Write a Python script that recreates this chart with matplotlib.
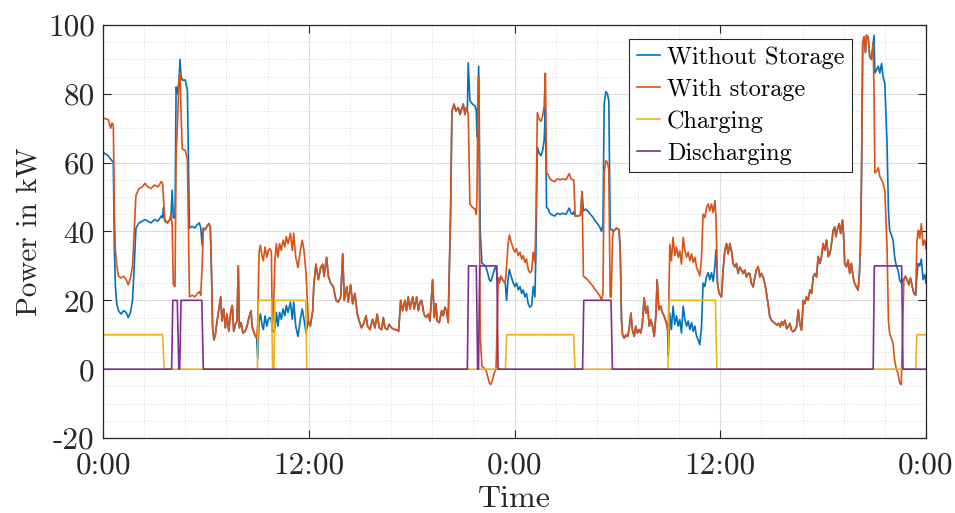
import numpy as np
import matplotlib
matplotlib.use("Agg")
import matplotlib.pyplot as plt
from matplotlib.ticker import FixedLocator, MultipleLocator

# hours since start (two days)
time_h = [
    0.0, 0.3, 0.45, 0.52, 0.6, 0.66, 0.72, 0.8, 0.9, 1.05,
    1.2, 1.35, 1.47, 1.6, 1.72, 1.8, 1.92, 2.1, 2.3, 2.45,
    2.6, 2.8, 3.0, 3.2, 3.4, 3.47, 3.52, 3.6, 3.75, 3.9,
    3.97, 4.03, 4.1, 4.2, 4.26, 4.33, 4.43, 4.49, 4.55, 4.62,
    4.8, 4.92, 5.0, 5.04, 5.2, 5.35, 5.5, 5.62, 5.7, 5.78,
    5.85, 5.95, 6.06, 6.18, 6.26, 6.34, 6.39, 6.47, 6.55, 6.65,
    6.76, 6.86, 6.94, 7.04, 7.13, 7.23, 7.33, 7.46, 7.54, 7.62,
    7.72, 7.81, 7.89, 7.95, 8.05, 8.16, 8.28, 8.4, 8.51, 8.63,
    8.71, 8.81, 8.9, 8.96, 9.02, 9.1, 9.18, 9.27, 9.35, 9.45,
    9.55, 9.64, 9.74, 9.82, 9.87, 9.95, 10.03, 10.11, 10.2, 10.3,
    10.4, 10.5, 10.6, 10.69, 10.79, 10.93, 11.04, 11.12, 11.24, 11.37,
    11.51, 11.62, 11.72, 11.84, 11.97, 12.09, 12.23, 12.3, 12.42, 12.56,
    12.69, 12.81, 12.89, 13.04, 13.14, 13.28, 13.43, 13.59, 13.72, 13.86,
    13.98, 14.07, 14.21, 14.3, 14.44, 14.56, 14.69, 14.83, 14.94, 15.08,
    15.22, 15.34, 15.43, 15.57, 15.72, 15.86, 15.99, 16.11, 16.25, 16.35,
    16.44, 16.58, 16.69, 16.83, 16.99, 17.12, 17.24, 17.36, 17.47, 17.61,
    17.7, 17.8, 17.9, 18.06, 18.15, 18.29, 18.39, 18.49, 18.58, 18.72,
    18.84, 18.97, 19.07, 19.22, 19.32, 19.42, 19.49, 19.61, 19.75, 19.84,
    19.94, 20.04, 20.13, 20.27, 20.35, 20.47, 20.58, 20.72, 20.82, 20.91,
    21.01, 21.11, 21.2, 21.25, 21.3, 21.4, 21.55, 21.7, 21.77, 21.81,
    21.87, 21.91, 21.95, 22.0, 22.1, 22.23, 22.33, 22.43, 22.53, 22.62,
    22.72, 22.82, 22.92, 23.0, 23.05, 23.11, 23.2, 23.3, 23.46, 23.54,
    23.62, 23.7, 23.8, 23.93, 24.02, 24.12, 24.22, 24.32, 24.42, 24.51,
    24.61, 24.7, 24.8, 24.9, 25.0, 25.09, 25.19, 25.25, 25.33, 25.44,
    25.54, 25.64, 25.73, 25.8, 25.87, 25.97, 26.06, 26.2, 26.35, 26.5,
    26.65, 26.84, 27.0, 27.19, 27.3, 27.4, 27.46, 27.54, 27.7, 27.85,
    27.94, 28.02, 28.15, 28.3, 28.42, 28.55, 28.68, 28.82, 28.95, 29.08,
    29.16, 29.23, 29.33, 29.42, 29.5, 29.58, 29.64, 29.72, 29.76, 29.95,
    30.1, 30.17, 30.24, 30.3, 30.4, 30.5, 30.6, 30.68, 30.79, 30.87,
    30.98, 31.07, 31.17, 31.27, 31.37, 31.46, 31.56, 31.66, 31.76, 31.86,
    31.95, 32.05, 32.15, 32.25, 32.32, 32.42, 32.52, 32.62, 32.73, 32.86,
    32.93, 32.97, 33.06, 33.15, 33.25, 33.35, 33.45, 33.55, 33.64, 33.74,
    33.84, 33.94, 34.04, 34.13, 34.23, 34.33, 34.42, 34.52, 34.62, 34.71,
    34.81, 34.91, 35.0, 35.1, 35.2, 35.3, 35.39, 35.49, 35.59, 35.69,
    35.75, 35.84, 35.93, 36.07, 36.17, 36.27, 36.37, 36.46, 36.56, 36.65,
    36.75, 36.85, 36.95, 37.04, 37.14, 37.24, 37.34, 37.43, 37.53, 37.63,
    37.72, 37.82, 37.92, 38.02, 38.11, 38.21, 38.31, 38.4, 38.5, 38.6,
    38.7, 38.79, 38.89, 38.99, 39.1, 39.2, 39.3, 39.4, 39.5, 39.58,
    39.67, 39.77, 39.87, 39.96, 40.06, 40.16, 40.25, 40.35, 40.45, 40.55,
    40.64, 40.74, 40.84, 40.93, 41.03, 41.13, 41.23, 41.33, 41.42, 41.52,
    41.62, 41.71, 41.81, 41.91, 42.0, 42.1, 42.2, 42.3, 42.4, 42.49,
    42.59, 42.68, 42.75, 42.82, 42.94, 43.02, 43.13, 43.2, 43.26, 43.36,
    43.46, 43.55, 43.65, 43.75, 43.84, 43.94, 44.04, 44.12, 44.18, 44.24,
    44.31, 44.39, 44.47, 44.53, 44.63, 44.72, 44.82, 44.92, 44.97, 45.02,
    45.12, 45.22, 45.31, 45.41, 45.5, 45.6, 45.73, 45.81, 45.88, 45.98,
    46.08, 46.17, 46.27, 46.37, 46.47, 46.56, 46.63, 46.71, 46.8, 46.9,
    47.0, 47.09, 47.2, 47.3, 47.4, 47.47, 47.54, 47.64, 47.73, 47.83,
    47.93, 48.0,
]

# load without storage (kW)
without_storage = [
    63.0, 62.0, 61.0, 60.5, 60.0, 35.0, 24.0, 19.0, 17.0, 16.0,
    17.0, 16.5, 15.0, 16.5, 20.0, 28.0, 41.0, 42.5, 43.0, 43.5,
    43.0, 42.5, 43.5, 43.0, 44.5, 44.0, 47.0, 43.0, 42.5, 43.5,
    45.0, 52.0, 44.0, 44.0, 82.0, 80.0, 84.0, 90.0, 85.0, 84.0,
    84.0, 81.0, 55.0, 41.0, 41.5, 41.0, 42.0, 42.5, 41.0, 36.0,
    41.0, 40.5, 41.5, 42.3, 41.0, 25.0, 12.0, 8.5, 10.0, 14.0,
    17.5, 21.0, 14.0, 17.5, 12.0, 16.0, 11.0, 17.0, 18.5, 11.0,
    13.0, 14.0, 30.0, 12.0, 13.5, 10.5, 11.0, 12.5, 15.0, 17.0,
    12.0, 10.5, 9.5, 9.0, 3.0, 14.0, 16.0, 13.0, 11.5, 15.5,
    12.5, 14.5, 15.0, 14.0, 11.0, 11.0, 12.0, 16.5, 12.5, 16.5,
    14.5, 17.5, 15.5, 18.5, 16.5, 19.5, 14.5, 19.5, 12.5, 9.5,
    14.5, 17.5, 14.5, 10.5, 14.0, 12.5, 17.0, 25.0, 30.5, 26.0,
    29.5, 30.5, 27.0, 32.5, 27.0, 25.0, 24.0, 20.0, 19.5, 21.0,
    33.5, 20.0, 24.0, 19.5, 24.5, 19.0, 22.0, 16.0, 14.0, 12.0,
    13.5, 15.5, 12.5, 11.5, 14.5, 12.0, 16.0, 12.0, 11.5, 15.0,
    12.0, 11.5, 13.0, 12.0, 11.5, 11.5, 11.0, 20.0, 17.0, 20.0,
    17.0, 21.0, 17.5, 21.0, 17.5, 21.0, 17.0, 19.5, 20.0, 16.0,
    15.0, 16.0, 14.0, 26.0, 15.0, 19.0, 14.0, 13.5, 17.0, 15.5,
    18.0, 17.0, 13.5, 45.0, 75.0, 77.0, 75.0, 76.0, 74.0, 75.5,
    77.0, 74.0, 76.0, 75.0, 89.0, 78.0, 77.0, 76.5, 75.0, 67.5,
    80.0, 88.0, 70.0, 40.0, 30.8, 30.3, 29.8, 28.0, 26.0, 25.5,
    27.0, 29.0, 29.9, 26.0, 26.5, 25.0, 27.0, 26.0, 25.0, 20.0,
    26.0, 29.0, 27.0, 25.0, 24.0, 25.0, 23.0, 24.0, 22.0, 23.0,
    21.0, 22.0, 19.0, 18.0, 18.5, 24.0, 21.0, 33.7, 64.5, 62.7,
    62.0, 63.5, 66.5, 76.0, 47.0, 46.5, 45.3, 44.8, 44.5, 45.3,
    45.0, 45.3, 45.0, 46.8, 45.3, 45.0, 45.8, 44.5, 44.5, 44.8,
    51.6, 46.0, 46.5, 45.8, 45.0, 44.3, 43.3, 42.4, 41.5, 40.0,
    42.0, 77.2, 80.6, 80.0, 78.0, 41.0, 40.5, 40.5, 40.0, 41.0,
    40.5, 33.7, 14.4, 10.0, 9.0, 10.0, 9.5, 11.5, 16.3, 11.5,
    9.5, 12.5, 10.5, 11.5, 10.5, 13.4, 20.7, 16.3, 18.3, 12.5,
    14.4, 12.5, 9.5, 16.0, 26.0, 17.3, 18.3, 16.5, 15.4, 13.4,
    11.5, 4.0, 16.3, 11.5, 18.3, 13.0, 15.5, 12.5, 14.4, 10.5,
    18.3, 14.4, 12.5, 14.0, 11.5, 13.5, 11.0, 12.5, 9.5, 8.6,
    7.1, 12.5, 25.0, 24.0, 27.0, 28.0, 26.0, 28.0, 25.5, 30.0,
    34.7, 25.0, 22.0, 21.0, 29.0, 34.6, 36.5, 33.5, 36.5, 34.6,
    30.7, 29.7, 30.7, 27.8, 29.7, 28.8, 27.8, 28.8, 26.8, 27.8,
    27.8, 24.9, 23.9, 26.8, 28.8, 29.8, 26.8, 27.8, 26.8, 24.9,
    22.0, 19.0, 15.2, 14.2, 13.7, 13.3, 12.8, 13.3, 12.3, 13.8,
    12.8, 14.2, 11.8, 12.3, 13.3, 11.3, 10.9, 11.3, 12.3, 17.2,
    13.3, 11.3, 20.0, 19.0, 21.0, 20.0, 23.0, 22.0, 26.8, 27.8,
    26.8, 32.7, 30.7, 32.7, 36.5, 34.6, 37.5, 32.7, 33.6, 36.5,
    40.4, 41.3, 38.5, 40.4, 42.3, 39.4, 43.3, 38.5, 30.7, 29.7,
    31.7, 27.8, 30.7, 26.8, 24.9, 23.9, 23.0, 28.0, 36.5, 55.9,
    94.7, 96.6, 92.0, 97.0, 96.5, 90.8, 90.0, 94.7, 97.0, 86.0,
    87.0, 88.0, 86.0, 88.8, 85.0, 83.0, 65.6, 46.2, 40.4, 39.0,
    37.5, 32.7, 30.0, 28.8, 25.9, 25.0, 25.9, 26.0, 27.0, 26.0,
    24.5, 26.5, 24.0, 22.0, 21.5, 27.0, 30.7, 30.0, 32.0, 26.0,
    27.5, 25.0,
]

# net load with storage (kW)
with_storage = [
    73.0, 72.5, 70.0, 71.5, 71.0, 45.0, 34.5, 30.0, 27.0, 26.5,
    27.0, 26.0, 24.5, 26.5, 30.0, 38.0, 50.5, 52.5, 53.0, 54.0,
    53.0, 52.5, 53.5, 53.0, 54.5, 54.0, 50.0, 43.5, 42.5, 43.5,
    45.0, 42.0, 24.5, 24.0, 62.0, 70.0, 84.0, 86.0, 75.0, 64.0,
    63.5, 61.0, 35.0, 21.0, 21.5, 21.0, 22.0, 22.5, 21.5, 30.0,
    41.0, 40.5, 41.5, 42.3, 41.0, 25.0, 12.0, 8.5, 10.0, 14.0,
    17.5, 21.0, 14.0, 17.5, 12.0, 16.0, 11.0, 17.0, 18.5, 11.0,
    13.0, 14.0, 30.0, 12.0, 13.5, 10.5, 11.0, 12.5, 15.0, 17.0,
    12.0, 10.5, 9.5, 9.0, 13.0, 34.0, 36.0, 33.0, 31.5, 35.5,
    32.5, 34.5, 35.0, 34.0, 11.5, 19.0, 32.0, 36.5, 32.5, 36.5,
    34.5, 37.5, 35.5, 38.5, 36.5, 39.5, 34.5, 39.5, 32.5, 29.5,
    34.5, 37.5, 34.5, 28.0, 14.0, 12.5, 17.0, 25.0, 30.5, 26.0,
    29.5, 30.5, 27.0, 32.5, 27.0, 25.0, 24.0, 20.0, 19.5, 21.0,
    33.5, 20.0, 24.0, 19.5, 24.5, 19.0, 22.0, 16.0, 14.0, 12.0,
    13.5, 15.5, 12.5, 11.5, 14.5, 12.0, 16.0, 12.0, 11.5, 15.0,
    12.0, 11.5, 13.0, 12.0, 11.5, 11.5, 11.0, 20.0, 17.0, 20.0,
    17.0, 21.0, 17.5, 21.0, 17.5, 21.0, 17.0, 19.5, 20.0, 16.0,
    15.0, 16.0, 14.0, 26.0, 15.0, 19.0, 14.0, 13.5, 17.0, 15.5,
    18.0, 17.0, 13.5, 45.0, 75.0, 77.0, 75.0, 76.0, 74.0, 75.5,
    77.0, 74.0, 76.0, 75.0, 74.0, 48.0, 47.0, 46.5, 45.0, 50.0,
    80.0, 85.0, 50.0, 10.0, 0.8, 0.3, -0.2, -2.0, -4.0, -4.5,
    -3.0, -1.0, 0.0, 15.0, 26.5, 25.0, 27.0, 26.0, 25.0, 30.0,
    36.0, 39.0, 37.0, 35.0, 34.0, 35.0, 33.0, 34.0, 32.0, 33.0,
    31.0, 32.0, 29.0, 28.0, 28.5, 34.0, 31.0, 43.7, 74.5, 72.7,
    72.0, 73.5, 76.5, 86.0, 57.0, 56.5, 55.3, 54.8, 54.5, 55.3,
    55.0, 55.3, 55.0, 56.8, 55.3, 55.0, 55.0, 44.5, 44.5, 44.8,
    51.6, 27.0, 26.5, 25.8, 25.0, 24.3, 23.3, 22.4, 21.5, 20.2,
    22.0, 57.2, 60.6, 60.0, 58.0, 21.0, 21.0, 38.0, 40.0, 41.0,
    40.5, 33.7, 14.4, 10.0, 9.0, 10.0, 9.5, 11.5, 16.3, 11.5,
    9.5, 12.5, 10.5, 11.5, 10.5, 13.4, 20.7, 16.3, 18.3, 12.5,
    14.4, 12.5, 9.5, 16.0, 26.0, 17.3, 18.3, 16.5, 15.4, 13.4,
    11.5, 12.0, 36.3, 31.5, 38.3, 33.0, 35.5, 32.5, 34.4, 30.5,
    38.3, 34.4, 32.5, 34.0, 31.5, 33.5, 31.0, 32.5, 29.5, 28.6,
    27.1, 32.5, 45.0, 44.0, 47.0, 48.0, 46.0, 48.0, 45.5, 49.0,
    44.0, 25.0, 22.0, 21.0, 29.0, 34.6, 36.5, 33.5, 36.5, 34.6,
    30.7, 29.7, 30.7, 27.8, 29.7, 28.8, 27.8, 28.8, 26.8, 27.8,
    27.8, 24.9, 23.9, 26.8, 28.8, 29.8, 26.8, 27.8, 26.8, 24.9,
    22.0, 19.0, 15.2, 14.2, 13.7, 13.3, 12.8, 13.3, 12.3, 13.8,
    12.8, 14.2, 11.8, 12.3, 13.3, 11.3, 10.9, 11.3, 12.3, 17.2,
    13.3, 11.3, 20.0, 19.0, 21.0, 20.0, 23.0, 22.0, 26.8, 27.8,
    26.8, 32.7, 30.7, 32.7, 36.5, 34.6, 37.5, 32.7, 33.6, 36.5,
    40.4, 41.3, 38.5, 40.4, 42.3, 39.4, 43.3, 38.5, 30.7, 29.7,
    31.7, 27.8, 30.7, 26.8, 24.9, 23.9, 23.0, 28.0, 36.5, 55.9,
    94.7, 96.6, 92.0, 97.0, 96.5, 90.8, 90.0, 94.7, 80.0, 57.0,
    57.5, 58.5, 56.0, 55.0, 54.0, 52.0, 35.6, 14.0, 10.4, 9.0,
    7.5, 2.7, 0.0, -1.2, -4.1, -4.5, 10.0, 26.0, 27.0, 26.0,
    24.5, 26.5, 24.0, 22.0, 21.5, 37.0, 40.4, 38.0, 42.3, 36.0,
    37.5, 35.0,
]

# storage schedule, breakpoints (hour, kW)
charge_t = [0, 3.47, 3.57, 9.0, 9.07, 9.83, 9.89, 9.97, 10.03, 11.82, 11.89,
            23.47, 23.54, 27.45, 27.53, 32.95, 33.02, 35.72, 35.8, 47.4, 47.47, 48]
charge_kw = [10, 10, 0, 0, 20, 20, 0, 0, 20, 20, 0,
             0, 10, 10, 0, 0, 20, 20, 0, 0, 10, 10]

discharge_t = [0, 4.0, 4.07, 4.33, 4.42, 4.47, 4.55, 5.76, 5.85,
               21.25, 21.32, 21.77, 21.85, 21.9, 21.97, 22.97, 23.04,
               27.97, 28.04, 29.63, 29.71, 44.92, 44.99, 46.58, 46.66, 48]
discharge_kw = [0, 0, 20, 20, 0, 0, 20, 20, 0,
                0, 30, 30, 0, 0, 30, 30, 0,
                0, 20, 20, 0, 0, 30, 30, 0, 0]

tick_hours = [0, 12, 24, 36, 48]
tick_labels = ['0:00', '12:00', '0:00', '12:00', '0:00']
y_ticks = [-20, 0, 20, 40, 60, 80, 100]

assert len(time_h) == len(without_storage) == len(with_storage)

plt.rcParams['font.family'] = 'serif'
plt.rcParams['font.serif'] = ['cmr10']
plt.rcParams['axes.unicode_minus'] = False
plt.rcParams['mathtext.fontset'] = 'cm'

fig = plt.figure(figsize=(9.55, 5.13), dpi=100)
ax = fig.add_axes([0.1079, 0.1462, 0.8617, 0.8051])

lw = 1.2
ax.plot(time_h, without_storage, color='#0072BD', lw=lw, label='Without Storage')
ax.plot(time_h, with_storage, color='#D95319', lw=lw, label='With storage')
ax.plot(charge_t, charge_kw, color='#EDB120', lw=lw, label='Charging')
ax.plot(discharge_t, discharge_kw, color='#7E2F8E', lw=lw, label='Discharging')

ax.set_xlim(0, 48)
ax.set_ylim(-20, 100)
ax.xaxis.set_major_locator(FixedLocator(tick_hours))
ax.set_xticklabels(tick_labels)
ax.xaxis.set_minor_locator(MultipleLocator(2.4))
ax.yaxis.set_major_locator(FixedLocator(y_ticks))
ax.set_yticklabels([str(v) for v in y_ticks])
ax.yaxis.set_minor_locator(MultipleLocator(5))

ax.grid(which='major', color='#dcdcdc', lw=0.8)
ax.grid(which='minor', color='#d8d8d8', lw=0.7, ls=(0, (1, 2)))
ax.set_axisbelow(True)

ax.tick_params(which='major', direction='in', length=6, width=0.8, top=True, right=True,
               labelsize=22.5, colors='#262626')
ax.tick_params(axis='x', which='major', pad=10)
ax.tick_params(axis='y', which='major', pad=6)
ax.tick_params(which='minor', length=0, top=True, right=True)
for s in ax.spines.values():
    s.set_color('#262626')
    s.set_linewidth(0.9)

ax.set_xlabel('Time', fontsize=23, color='#262626', labelpad=4)
ax.set_ylabel('Power in kW', fontsize=21, color='#262626', labelpad=4)

leg = ax.legend(loc='upper right', bbox_to_anchor=(0.91, 0.966), borderaxespad=0,
                fontsize=17.5, fancybox=False, framealpha=1, edgecolor='#262626',
                handlelength=0.95, handletextpad=0.3, labelspacing=0.4,
                borderpad=0.3)
leg.get_frame().set_linewidth(0.8)

fig.savefig('out.png', dpi=100)
